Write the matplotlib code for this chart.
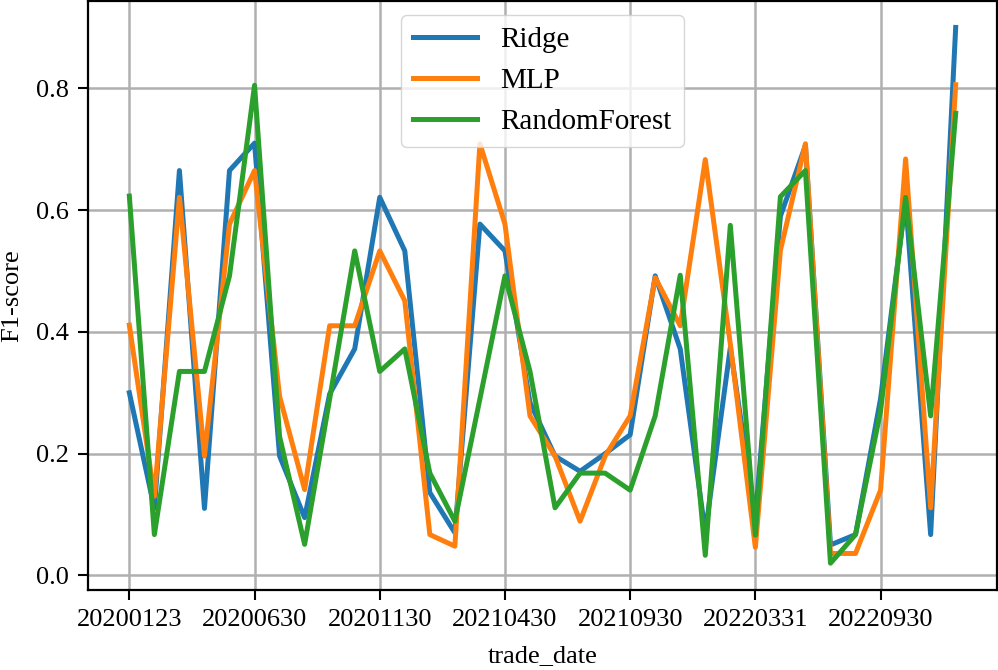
import numpy as np
import matplotlib
matplotlib.use('Agg')
import matplotlib.pyplot as plt

plt.rcParams['font.family'] = ['Liberation Serif', 'DejaVu Serif']
plt.rcParams['font.size'] = 19
#
# Datos: F1-score por fecha de corte
#
tick_dates = ['20200123', '20200630', '20201130', '20210430',
              '20210930', '20220331', '20220930']
ridge = [0.30, 0.11, 0.665, 0.11, 0.665, 0.71, 0.196, 0.095, 0.298, 0.372,
         0.621, 0.533, 0.136, 0.07, 0.577, 0.533, 0.284, 0.196, 0.171, 0.20,
         0.231, 0.492, 0.372, 0.07, 0.374, 0.093, 0.59, 0.706, 0.05, 0.067,
         0.29, 0.617, 0.067, 0.90]
mlp = [0.411, 0.13, 0.621, 0.196, 0.577, 0.665, 0.294, 0.141, 0.41, 0.41,
       0.533, 0.451, 0.067, 0.048, 0.709, 0.577, 0.262, 0.196, 0.089, 0.196,
       0.262, 0.489, 0.41, 0.683, 0.38, 0.046, 0.534, 0.709, 0.036, 0.036,
       0.14, 0.684, 0.111, 0.806]
forest = [0.623, 0.067, 0.335, 0.335, 0.492, 0.805, 0.228, 0.051, 0.29, 0.533,
          0.335, 0.372, 0.168, 0.089, 0.29, 0.492, 0.335, 0.111, 0.168, 0.168,
          0.14, 0.262, 0.493, 0.033, 0.575, 0.066, 0.622, 0.665, 0.02, 0.067,
          0.27, 0.621, 0.262, 0.759]

x = np.arange(len(ridge))
#
# Figura y ejes
#
fig = plt.figure(figsize=(9.98, 6.70), dpi=100)
ax = fig.add_axes([0.0882, 0.1194, 0.9108, 0.8796])

ax.plot(x, ridge, lw=3.6, color='#1f77b4', label='Ridge')
ax.plot(x, mlp, lw=3.6, color='#ff7f0e', label='MLP')
ax.plot(x, forest, lw=3.6, color='#2ca02c', label='RandomForest')

ax.set_xticks(np.arange(0, len(x), 5))
ax.set_xticklabels(tick_dates)
ax.set_yticks([0.0, 0.2, 0.4, 0.6, 0.8])
ax.grid(True, color='#b0b0b0', lw=1.8)
ax.tick_params(length=7.2, width=1.5, pad=6.5)
for s in ax.spines.values():
    s.set_linewidth(1.6)

ax.set_xlabel('trade_date', labelpad=10)
ax.set_ylabel('F1-score', labelpad=9)
ax.legend(loc='upper center', fontsize=21, handlelength=2.2)

fig.savefig('out.png', dpi=100)
